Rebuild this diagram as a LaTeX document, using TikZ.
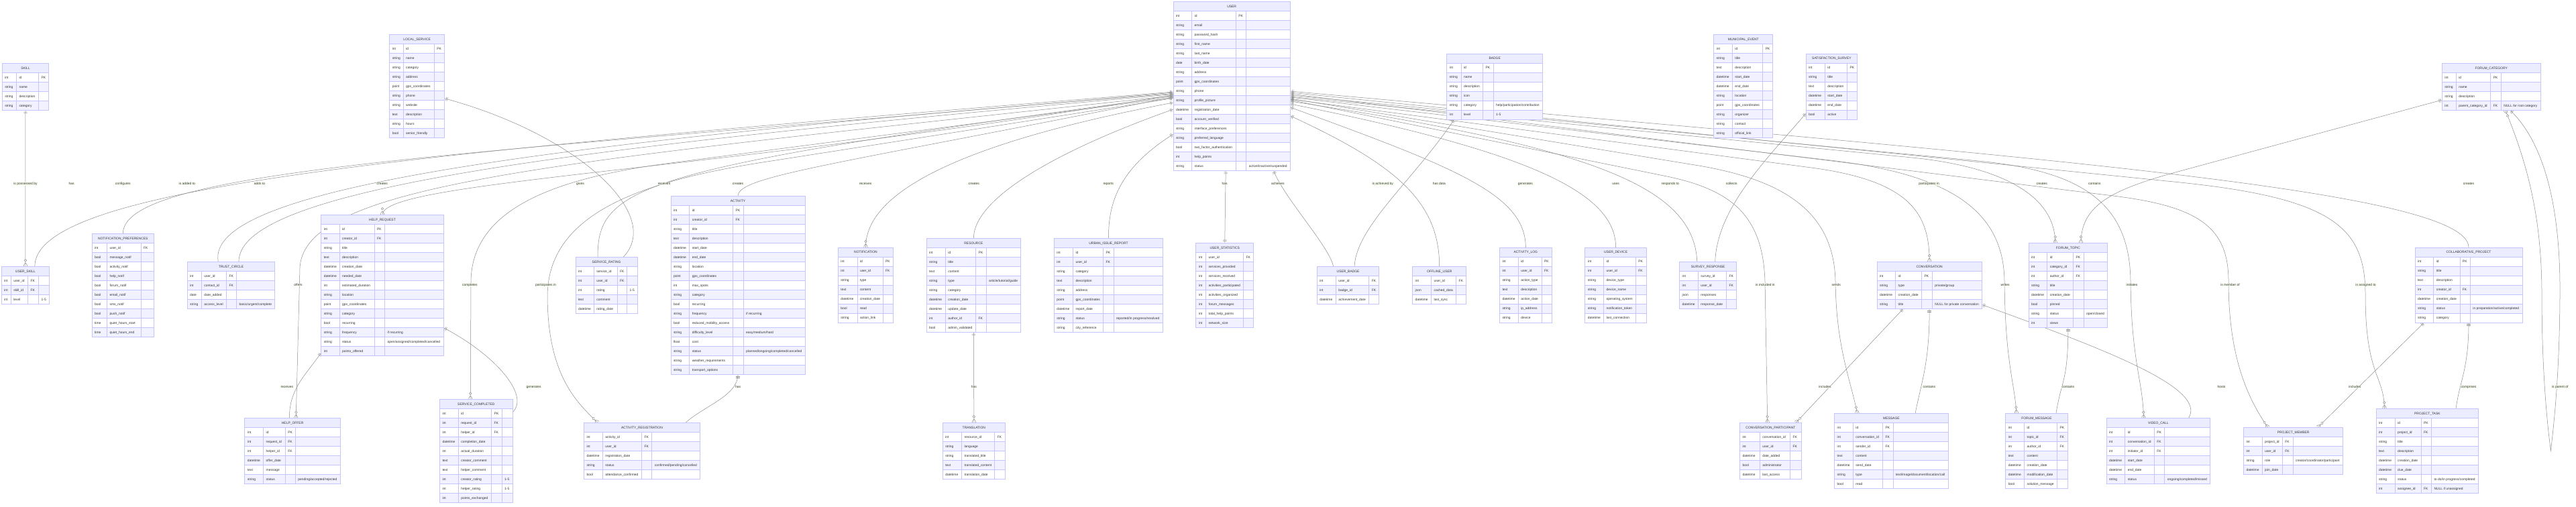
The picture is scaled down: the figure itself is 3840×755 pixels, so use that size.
\documentclass[tikz,border=0pt]{standalone}
\usepackage{fontspec}
\setmainfont{Liberation Sans}
\usetikzlibrary{calc,decorations.markings}

\definecolor{headfill}{RGB}{236,236,255}
\definecolor{rowfill}{RGB}{241,241,255}
\definecolor{cellline}{RGB}{196,196,255}
\definecolor{relline}{RGB}{140,140,140}
\definecolor{lblfill}{RGB}{247,255,235}

\pgfdeclarelayer{bg}
\pgfdeclarelayer{edges}
\pgfsetlayers{bg,edges,main}

\protected\def\slsh{/}

% relationship end marks
\newcommand\onestart{\draw[relmark] (2.7,-2.7) -- (2.7,2.7) (4.5,-2.7) -- (4.5,2.7);}
\newcommand\oneend{\draw[relmark] (-2.7,-2.7) -- (-2.7,2.7) (-4.5,-2.7) -- (-4.5,2.7);}
\newcommand\manyend{\draw[relmark] (-5.5,0) .. controls (-3.7,1.8) and (-1.8,2.8) .. (0,2.8)
  (-5.5,0) .. controls (-3.7,-1.8) and (-1.8,-2.8) .. (0,-2.8);
  \draw[relmark, fill=white] (-9,0) circle[radius=1.8pt];}

\tikzset{
  cell/.style={draw=cellline, line width=0.9pt},
  headtext/.style={anchor=base, inner sep=0pt, text=black!80, font=\fontsize{4.95}{5.5}\selectfont},
  celltext/.style={anchor=base west, inner sep=0pt, text=black!80, font=\fontsize{4.95}{5.5}\selectfont},
  rlabel/.style={fill=lblfill, fill opacity=0.7, text opacity=1, text=black!80, inner sep=0.6pt, font=\fontsize{4.95}{5.5}\selectfont},
  rel/.style={draw=relline, line width=0.5pt},
  relmark/.style={draw=relline, line width=0.5pt},
  onemany/.style={decoration={markings, mark=at position 0 with {\onestart}, mark=at position 1 with {\manyend}}, postaction={decorate}},
  oneone/.style={decoration={markings, mark=at position 0 with {\onestart}, mark=at position 1 with {\oneend}}, postaction={decorate}}
}

% \entity{name}{left}{top}{title}{type w}{name w}{key w}{comment w}{rows}
\newcommand\entity[9]{%
  \pgfmathsetmacro\xa{#2}%
  \pgfmathsetmacro\xb{#2+#5}%
  \pgfmathsetmacro\xc{\xb+#6}%
  \pgfmathsetmacro\xd{\xc+#7}%
  \pgfmathsetmacro\xe{\xd+#8}%
  \draw[cell, fill=headfill] (\xa,#3) rectangle (\xe,#3+14);
  \node[headtext] at ({(\xa+\xe)/2},#3+8.8) {#4};
  \foreach \ty/\nm/\ky/\cm [count=\i] in {#9}{%
    \pgfmathsetmacro\yt{#3+14*\i}%
    \ifodd\i \def\rowcol{white}\else \def\rowcol{rowfill}\fi
    \draw[cell, fill=\rowcol] (\xa,\yt) rectangle (\xe,\yt+14);
    \draw[cell] (\xb,\yt) -- (\xb,\yt+14) (\xc,\yt) -- (\xc,\yt+14);
    \ifdim #8pt>0pt \draw[cell] (\xd,\yt) -- (\xd,\yt+14);\fi
    \node[celltext] at (\xa+3.8,\yt+8.8) {\ty};
    \node[celltext] at (\xb+3.8,\yt+8.8) {\nm};
    \node[celltext] at (\xc+3.8,\yt+8.8) {\ky};
    \node[celltext] at (\xd+3.8,\yt+8.8) {\cm};
    \xdef\nrows{\i}%
  }
  \pgfmathsetmacro\tabw{\xe-\xa}%
  \pgfmathsetmacro\tabh{14*(\nrows+1)}%
  \node[inner sep=0pt, outer sep=0pt, minimum width=\tabw pt, minimum height=\tabh pt, anchor=north west] (#1) at (\xa,#3) {};
}

\begin{document}
\begin{tikzpicture}[x=1pt, y=-1pt]
\useasboundingbox (0,0) rectangle (3840,755);
\begin{pgfonlayer}{bg}
  \fill[white] (0,0) rectangle (3840,755);
\end{pgfonlayer}

% top row
\entity{skill}{3.3}{94.3}{SKILL}{21.2}{33.1}{15.1}{0}{int/id/PK/,string/name//,string/description//,string/category//}
\entity{localsvc}{580.8}{51.7}{LOCAL\_SERVICE}{20.4}{46.1}{15.1}{0}{int/id/PK/,string/name//,string/category//,string/address//,point/gps\_coordinates//,string/phone//,string/website//,text/description//,string/hours//,bool/senior\_friendly//}
\entity{user}{1749}{2.3}{USER}{27.7}{65.7}{15.5}{65.4}{int/id/PK/,string/email//,string/password\_hash//,string/first\_name//,string/last\_name//,date/birth\_date//,string/address//,point/gps\_coordinates//,string/phone//,string/profile\_picture//,datetime/registration\_date//,bool/account\_verified//,string/interface\_preferences//,string/preferred\_language//,bool/two\_factor\_authentication//,int/help\_points//,string/status//active\slsh inactive\slsh suspended}
\entity{badge}{2156.7}{80}{BADGE}{21.3}{32.6}{15.5}{73.5}{int/id/PK/,string/name//,string/description//,string/icon//,string/category//help\slsh participation\slsh contribution,int/level//1-5}
\entity{municipal}{2554.7}{51.7}{MUNICIPAL\_EVENT}{27.7}{45.4}{15.1}{0}{int/id/PK/,string/title//,text/description//,datetime/start\_date//,datetime/end\_date//,string/location//,point/gps\_coordinates//,string/organizer//,string/contact//,string/official\_link//}
\entity{survey}{2692.2}{80}{SATISFACTION\_SURVEY}{28.2}{33.1}{15.1}{0}{int/id/PK/,string/title//,text/description//,datetime/start\_date//,datetime/end\_date//,bool/active//}
\entity{forumcat}{3640.4}{94.3}{FORUM\_CATEGORY}{20.8}{51.5}{15.5}{58.7}{int/id/PK/,string/name//,string/description//,int/parent\_category\_id/FK/NULL for root category}

% middle row
\entity{userskill}{2.4}{397.3}{USER\_SKILL}{13.9}{25.3}{16}{15.9}{int/user\_id/FK/,int/skill\_id/FK/,int/level//1-5}
\entity{notifprefs}{137.1}{348.3}{NOTIFICATION\_PREFERENCES}{22.5}{50.6}{19.2}{0}{int/user\_id/FK/,bool/message\_notif//,bool/activity\_notif//,bool/help\_notif//,bool/forum\_notif//,bool/email\_notif//,bool/sms\_notif//,bool/push\_notif//,time/quiet\_hours\_start//,time/quiet\_hours\_end//}
\entity{trust}{279.2}{390.3}{TRUST\_CIRCLE}{21.2}{37.2}{15.1}{57.1}{int/user\_id/FK/,int/contact\_id/FK/,date/date\_added//,string/access\_level//basic\slsh urgent\slsh complete}
\entity{helpreq}{478.8}{320.3}{HELP\_REQUEST}{27.3}{51.9}{15.5}{87.7}{int/id/PK/,int/creator\_id/FK/,string/title//,text/description//,datetime/creation\_date//,datetime/needed\_date//,int/estimated\_duration//,string/location//,point/gps\_coordinates//,string/category//,bool/recurring//,string/frequency//if recurring,string/status//open\slsh assigned\slsh completed\slsh cancelled,int/points\_offered//}
\entity{rating}{858}{383.3}{SERVICE\_RATING}{27.3}{34.7}{14.7}{15.5}{int/service\_id/FK/,int/user\_id/FK/,int/rating//1-5,text/comment//,datetime/rating\_date//}
\entity{activity}{1000}{292.3}{ACTIVITY}{27.8}{64.9}{15.5}{91.8}{int/id/PK/,int/creator\_id/FK/,string/title//,text/description//,datetime/start\_date//,datetime/end\_date//,string/location//,point/gps\_coordinates//,int/max\_spots//,string/category//,bool/recurring//,string/frequency//if recurring,bool/reduced\_mobility\_access//,string/difficulty\_level//easy\slsh medium\slsh hard,float/cost//,string/status//planned\slsh ongoing\slsh completed\slsh cancelled,string/weather\_requirements//,string/transport\_options//}
\entity{notif}{1249.4}{369}{NOTIFICATION}{28.6}{38.1}{15.5}{0}{int/id/PK/,int/user\_id/FK/,string/type//,text/content//,datetime/creation\_date//,bool/read//,string/action\_link//}
\entity{resource}{1381.2}{355.3}{RESOURCE}{28.2}{45.3}{15.5}{51.4}{int/id/PK/,string/title//,text/content//,string/type//article\slsh tutorial\slsh guide,string/category//,datetime/creation\_date//,datetime/update\_date//,int/author\_id/FK/,bool/admin\_validated//}
\entity{urban}{1571.4}{355.3}{URBAN\_ISSUE\_REPORT}{28.2}{44.9}{15.5}{73.5}{int/id/PK/,int/user\_id/FK/,string/category//,text/description//,string/address//,point/gps\_coordinates//,datetime/report\_date//,string/status//reported\slsh in progress\slsh resolved,string/city\_reference//}
\entity{userstats}{1782.9}{362.3}{USER\_STATISTICS}{14.7}{55.9}{15.1}{0}{int/user\_id/FK/,int/services\_provided//,int/services\_received//,int/activities\_participated//,int/activities\_organized//,int/forum\_messages//,int/total\_help\_points//,int/network\_size//}
\entity{userbadge}{1963.3}{397.3}{USER\_BADGE}{28.1}{49.4}{15.1}{0}{int/user\_id/FK/,int/badge\_id/FK/,datetime/achievement\_date//}
\entity{offline}{2105.7}{397.3}{OFFLINE\_USER}{27.8}{37.1}{15.1}{0}{int/user\_id/FK/,json/cached\_data//,datetime/last\_sync//}
\entity{actlog}{2235.5}{369}{ACTIVITY\_LOG}{27.8}{34.7}{15.1}{0}{int/id/PK/,int/user\_id/FK/,string/action\_type//,text/description//,datetime/action\_date//,string/ip\_address//,string/device//}
\entity{device}{2362.9}{369}{USER\_DEVICE}{27.7}{47.8}{15.9}{0}{int/id/PK/,int/user\_id/FK/,string/device\_type//,string/device\_name//,string/operating\_system//,string/notification\_token//,datetime/last\_connection//}
\entity{surveyresp}{2503.7}{390.3}{SURVEY\_RESPONSE}{27.7}{42.1}{15.1}{0}{int/survey\_id/FK/,int/user\_id/FK/,json/responses//,datetime/response\_date//}
\entity{conv}{2798}{390.3}{CONVERSATION}{27.7}{38.8}{15.9}{73.9}{int/id/PK/,string/type//private\slsh group,datetime/creation\_date//,string/title//NULL for private conversation}
\entity{topic}{3024.1}{362.3}{FORUM\_TOPIC}{27.7}{38.8}{15.5}{35.5}{int/id/PK/,int/category\_id/FK/,int/author\_id/FK/,string/title//,datetime/creation\_date//,bool/pinned//,string/status//open\slsh closed,int/views//}
\entity{project}{3600}{369}{COLLABORATIVE\_PROJECT}{27.8}{39.1}{15.5}{77.6}{int/id/PK/,string/title//,text/description//,int/creator\_id/FK/,datetime/creation\_date//,string/status//in preparation\slsh active\slsh completed,string/category//}

% bottom row
\entity{helpoffer}{364.9}{623.7}{HELP\_OFFER}{27.8}{32.6}{15.1}{66.9}{int/id/PK/,int/request\_id/FK/,int/helper\_id/FK/,datetime/offer\_date//,text/message//,string/status//pending\slsh accepted\slsh rejected}
\entity{svcdone}{655.5}{595.7}{SERVICE\_COMPLETED}{27.8}{49.4}{15.5}{15.9}{int/id/PK/,int/request\_id/FK/,int/helper\_id/FK/,datetime/completion\_date//,int/actual\_duration//,text/creator\_comment//,text/helper\_comment//,int/creator\_rating//1-5,int/helper\_rating//1-5,int/points\_exchanged//}
\entity{actreg}{870.6}{630.3}{ACTIVITY\_REGISTRATION}{27.8}{58.3}{15.1}{71.5}{int/activity\_id/FK/,int/user\_id/FK/,datetime/registration\_date//,string/status//confirmed\slsh pending\slsh cancelled,bool/attendance\_confirmed//}
\entity{translation}{1405.3}{630.3}{TRANSLATION}{28.2}{49.4}{15.5}{0}{int/resource\_id/FK/,string/language//,string/translated\_title//,text/translated\_content//,datetime/translation\_date//}
\entity{convpart}{2593.5}{630.3}{CONVERSATION\_PARTICIPANT}{29.8}{45.3}{16.7}{0}{int/conversation\_id/FK/,int/user\_id/FK/,datetime/date\_added//,bool/administrator//,datetime/last\_access//}
\entity{message}{2734.7}{616.3}{MESSAGE}{27.7}{44.1}{15.5}{82.1}{int/id/PK/,int/conversation\_id/FK/,int/sender\_id/FK/,text/content//,datetime/send\_date//,string/type//text\slsh image\slsh document\slsh location\slsh call,bool/read//}
\entity{forummsg}{2989.8}{616.3}{FORUM\_MESSAGE}{27.8}{48.9}{15.5}{0}{int/id/PK/,int/topic\_id/FK/,int/author\_id/FK/,text/content//,datetime/creation\_date//,datetime/modification\_date//,bool/solution\_message//}
\entity{videocall}{3140}{623.7}{VIDEO\_CALL}{27.8}{43.6}{15.5}{67.8}{int/id/PK/,int/conversation\_id/FK/,int/initiator\_id/FK/,datetime/start\_date//,datetime/end\_date//,string/status//ongoing\slsh completed\slsh missed}
\entity{member}{3344.5}{637.3}{PROJECT\_MEMBER}{27.7}{30.2}{15.6}{74.7}{int/project\_id/FK/,int/user\_id/FK/,string/role//creator\slsh coordinator\slsh participant,datetime/join\_date//}
\entity{task}{3542}{609.3}{PROJECT\_TASK}{28.2}{38.8}{15.5}{70.2}{int/id/PK/,int/project\_id/FK/,string/title//,text/description//,datetime/creation\_date//,datetime/due\_date//,string/status//to do\slsh in progress\slsh completed,int/assignee\_id/FK/NULL if unassigned}

\begin{pgfonlayer}{edges}
% USER to the left
\draw[rel, onemany] ([yshift=-8.7]user.west) .. controls (669,225) and (52,272) .. ([xshift=13.9]userskill.north);
\draw[rel, onemany] ([yshift=-9.7]user.west) .. controls (749,228) and (183,248) .. (notifprefs.north);
\draw[rel, onemany] ([yshift=-11.2]user.west) .. controls (799,214) and (305,280) .. ([xshift=-19.2]trust.north);
\draw[rel, onemany] ([yshift=-12.2]user.west) .. controls (849,220) and (356,280) .. ([xshift=11.4]trust.north);
\draw[rel, onemany] ([yshift=-13.2]user.west) .. controls (1069,256) and (570,270) .. (helpreq.north);
\draw[rel, onemany] ([yshift=-14.2]user.west) .. controls (850,240) and (452,270) .. (447,400) -- ([xshift=5.1]helpoffer.north);
\draw[rel, onemany] ([yshift=-15.2]user.west) .. controls (960,250) and (890,275) .. ([xshift=-13]rating.north);
\draw[rel, onemany] ([yshift=-16.2]user.west) .. controls (1250,245) and (1100,262) .. (activity.north);
\draw[rel, onemany] ([yshift=-17.2]user.west) -- (1000,243) .. controls (830,265) and (703,310) .. (702,420) -- ([xshift=-8.6]svcdone.north);
\draw[rel, onemany] ([yshift=-18.2]user.west) -- (1150,240) .. controls (950,270) and (818,320) .. (816,440) .. controls (816,560) and (860,600) .. ([xshift=-66]actreg.north);
\draw[rel, onemany] ([yshift=-24.7]user.west) .. controls (1420,215) and (1290,290) .. (notif.north);
\draw[rel, onemany] ([yshift=-34.7]user.west) .. controls (1560,230) and (1451,300) .. (resource.north);
\draw[rel, onemany] ([yshift=-71.7]user.west) .. controls (1670,250) and (1652,300) .. (urban.north);
% USER downwards
\draw[rel, oneone] ([xshift=-9]user.south) -- (userstats.north);
\draw[rel, onemany] ([xshift=62.3]user.south) .. controls +(15,40) and +(-6,-30) .. ([xshift=-22]userbadge.north);
% USER to the right
\draw[rel, oneone] ([yshift=-44.4]user.east) .. controls (2080,245) and (2145.7,300) .. (offline.north);
\draw[rel, onemany] ([yshift=-31.7]user.east) .. controls (2170,250) and (2274,290) .. (actlog.north);
\draw[rel, onemany] ([yshift=-26.7]user.east) .. controls (2290,228) and (2408.6,290) .. (device.north);
\draw[rel, onemany] ([yshift=-22.7]user.east) .. controls (2380,220) and (2525,280) .. ([xshift=-16.35]surveyresp.north);
\draw[rel, onemany] ([yshift=-19.7]user.east) -- (2700,250) .. controls (2850,270) and (2876,320) .. (conv.north);
\draw[rel, onemany] ([yshift=-20.7]user.east) -- (2480,262) .. controls (2580,282) and (2628,320) .. (2631,420) -- ([xshift=-4.7]convpart.north);
\draw[rel, onemany] ([yshift=-18.7]user.east) -- (2520,245) .. controls (2650,265) and (2734,310) .. (2736,420) .. controls (2737,520) and (2760,570) .. ([xshift=-51]message.north);
\draw[rel, onemany] ([yshift=-16.7]user.east) -- (2720,238) .. controls (2900,258) and (2987,310) .. (2988,420) .. controls (2989,540) and (3003,570) .. ([xshift=-30]forummsg.north);
\draw[rel, onemany] ([yshift=-15.7]user.east) -- (2850,235) .. controls (2980,248) and (3063.7,290) .. ([xshift=-19.15]topic.north);
\draw[rel, onemany] ([yshift=-13.7]user.east) -- (2950,240) .. controls (3100,255) and (3175,300) .. (3176,420) .. controls (3177,540) and (3195,570) .. ([xshift=-22]videocall.north);
\draw[rel, onemany] ([yshift=-11.7]user.east) -- (3150,292) .. controls (3280,308) and (3322,340) .. (3322,420) .. controls (3322,540) and (3355,600) .. ([xshift=-38]member.north);
\draw[rel, onemany] ([yshift=-9.7]user.east) -- (3250,272) .. controls (3480,296) and (3526,340) .. (3526,440) .. controls (3526,560) and (3554,560) .. ([xshift=-64]task.north);
\draw[rel, onemany] ([yshift=-7.7]user.east) .. controls (2977,231) and (3680,280) .. (project.north);
% other relationships
\draw[rel, onemany] (skill.south) -- (userskill.north);
\draw[rel, onemany] ([yshift=-18]localsvc.east) .. controls (860,200) and (990,320) .. ([xshift=25]rating.north);
\draw[rel, onemany] ([yshift=-100.7]helpreq.west) .. controls (455,560) and (431,580) .. ([xshift=-4.7]helpoffer.north);
\draw[rel, onemany] ([yshift=-63.4]helpreq.east) .. controls (740,530) and (790,590) .. ([yshift=58]svcdone.east);
\draw[rel, onemany] (activity.south) .. controls (1100,590) and (1050,605) .. ([xshift=65]actreg.north);
\draw[rel, onemany] (resource.south) -- (translation.north);
\draw[rel, onemany] ([xshift=-60.4]badge.south) .. controls +(-60,90) and +(3,-60) .. ([xshift=9.4]userbadge.north);
\draw[rel, onemany] ([yshift=-40]survey.west) .. controls +(-60,70) and +(3,-80) .. ([xshift=10.5]surveyresp.north);
\draw[rel, onemany] ([xshift=-39]conv.south) -- ([xshift=37.6]convpart.north);
\draw[rel, onemany] (conv.south) .. controls +(0,80) and +(10,-50) .. ([xshift=35.6]message.north);
\draw[rel, onemany] ([yshift=-29]conv.east) .. controls (3150,525) and (3290,580) .. ([xshift=45]videocall.north);
\draw[rel, onemany] (topic.south) .. controls +(0,80) and +(8,-50) .. ([xshift=29]forummsg.north);
\draw[rel, onemany] ([yshift=-19.7]forumcat.west) -- (3250,255) .. controls (3150,282) and (3102,305) .. ([xshift=19.15]topic.north);
\draw[rel, onemany] ([xshift=-66.5]project.south) -- ([xshift=36.4]member.north);
\draw[rel, onemany] (project.south) .. controls +(0,70) and +(5,-40) .. ([xshift=42.7]task.north);
\draw[rel, onemany] ([xshift=28]forumcat.south) .. controls (3800,220) and (3816,330) .. (3816,430) .. controls (3816,560) and (3806,640) .. (3802.4,672) .. controls (3798,640) and (3789,560) .. (3789,440) .. controls (3789,330) and (3770,250) .. ([xshift=21]forumcat.south);

% relationship labels
\foreach \lx/\ly/\lt [count=\n] in {%
38/274/is possessed by,106.5/274/has,183.3/274/configures,278.8/274/is added to,386.9/274/adds to,%
569.8/274/creates,865/274/gives,990/274/receives,1100/274/creates,1290.2/274/receives,%
1451.8/274/creates,1652.2/274/reports,1825.7/274/has,1904.9/274/achieves,2061.2/274/is achieved by,%
2145.3/274/has data,2273.9/274/generates,2408.6/274/uses,2489.8/274/responds to,2581.2/274/collects,%
2875.5/274/participates in,3043.7/274/creates,3122.4/274/contains,3680/274/creates,%
444.5/425/offers,700.4/425/completes,813.5/425/participates in,2631.4/425/is included in,2737.1/425/sends,%
2989/425/writes,3178/425/initiates,3324.5/425/is member of,3526.5/425/is assigned to,%
427.8/577/receives,795.5/577/generates,1100/577/has,1451.8/577/has,2720.4/577/includes,%
2875.9/577/contains,3082.9/577/contains,3311.4/577/hosts,3510.2/577/includes,3680/577/comprises,3816.3/577/is parent of}
  \node[rlabel] (rl\n) at (\lx,\ly) {\lt};
\end{pgfonlayer}
\end{tikzpicture}
\end{document}
